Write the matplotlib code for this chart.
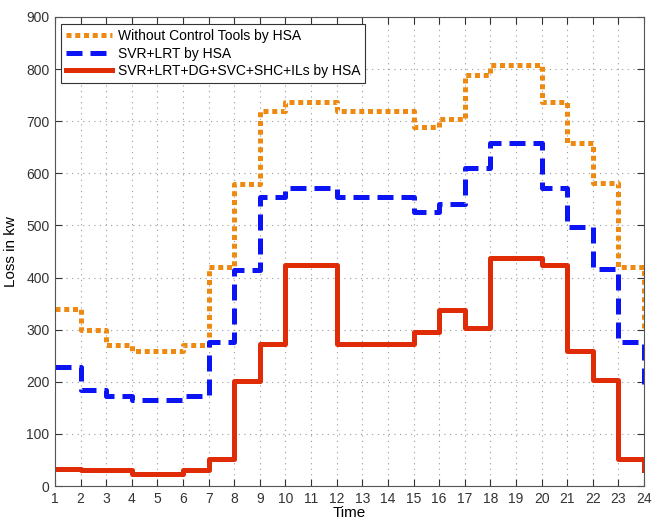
import numpy as np
import matplotlib.pyplot as plt

plt.rcParams['font.family'] = ['Liberation Sans', 'DejaVu Sans']

hours = np.arange(1, 25)

# hourly losses (kW)
loss_no_ctrl = [340, 300, 270, 260, 260, 270, 420, 580, 720, 737, 737, 720,
                720, 720, 688, 704, 789, 807, 807, 737, 658, 581, 420, 302]
loss_svr_lrt = [228, 185, 173, 165, 165, 173, 276, 415, 555, 571, 571, 555,
                555, 555, 526, 541, 611, 658, 658, 572, 497, 416, 277, 186]
loss_all = [32, 30, 30, 23, 23, 30, 52, 202, 273, 424, 424, 273,
            273, 273, 296, 337, 304, 437, 437, 425, 259, 203, 52, 30]

labels = ['Without Control Tools by HSA',
          'SVR+LRT by HSA',
          'SVR+LRT+DG+SVC+SHC+ILs by HSA']

fig = plt.figure(figsize=(6.52, 5.19), dpi=100)
ax = fig.add_axes([55/652, 33/519, 589/652, 469/519])

ax.step(hours, loss_no_ctrl, where='post', color='#EE8A12', lw=3.6,
        linestyle=(0, (1, 0.75)), label=labels[0])
ax.step(hours, loss_svr_lrt, where='post', color='#0A14F5', lw=3.6,
        linestyle=(0, (3.2, 1.6)), label=labels[1])
ax.step(hours, loss_all, where='post', color='#E02C06', lw=3.6,
        label=labels[2])

ax.set_xlim(1, 24)
ax.set_ylim(0, 900)
ax.set_xticks(hours)
ax.set_yticks(np.arange(0, 901, 100))
ax.tick_params(direction='in', top=True, right=True, length=5,
               labelsize=10, colors='#333333', pad=4)
for s in ax.spines.values():
    s.set_color('#555555')
    s.set_linewidth(0.8)
ax.grid(True, linestyle=(0, (1, 4)), color='#999999', lw=0.8)

ax.set_xlabel('Time', fontsize=11, labelpad=0)
ax.set_ylabel('Loss in kw', fontsize=11, labelpad=6)

leg = ax.legend(loc='upper left', bbox_to_anchor=(0.006, 0.99), fontsize=10,
                fancybox=False, edgecolor='#333333', framealpha=1,
                handlelength=3.3, handletextpad=0.4, labelspacing=0.25,
                borderpad=0.35, borderaxespad=0.2)
leg.get_frame().set_linewidth(0.8)

fig.savefig('out.png', dpi=100)
